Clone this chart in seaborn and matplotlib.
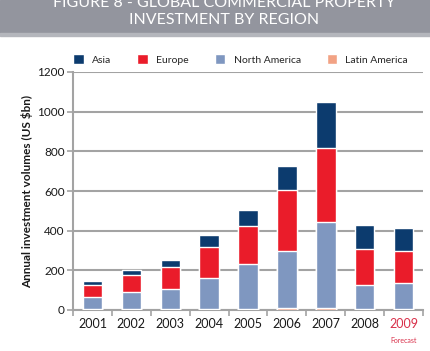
import numpy as np
import pandas as pd
import seaborn as sns
import matplotlib.pyplot as plt
from matplotlib.patches import Rectangle

years = ["2001", "2002", "2003", "2004", "2005", "2006", "2007", "2008", "2009"]
latin_america = [4, 4, 5, 6, 6, 8, 8, 5, 5]
north_america = [61, 85, 101, 156, 225, 288, 436, 120, 130]
europe = [63, 87, 113, 154, 193, 311, 373, 183, 161]
asia = [17, 26, 34, 60, 80, 119, 233, 119, 116]

regions = ["Asia", "Europe", "North America", "Latin America"]
colors = {"Asia": "#0c3b6e", "Europe": "#ea1c2a",
          "North America": "#7f97c0", "Latin America": "#f2a284"}

df = pd.DataFrame({"year": years, "Latin America": latin_america,
                   "North America": north_america, "Europe": europe, "Asia": asia})
# cumulative heights, bottom to top
df["c_la"] = df["Latin America"]
df["c_na"] = df["c_la"] + df["North America"]
df["c_eu"] = df["c_na"] + df["Europe"]
df["c_as"] = df["c_eu"] + df["Asia"]

sns.set_theme(style="white")
plt.rcParams["font.family"] = ["Lato", "DejaVu Sans"]

fig = plt.figure(figsize=(4.31, 3.51), dpi=100)

# grey header band (top title line is cut off in the original too)
fig.patches.append(Rectangle((0, 1 - 33 / 351), 1, 33 / 351, transform=fig.transFigure,
                             color="#93959e", zorder=0))
fig.patches.append(Rectangle((0, 1 - 36 / 351), 1, 3 / 351, transform=fig.transFigure,
                             color="#b4b6bc", zorder=0))
fig.text(0.52, 1 - 3 / 351, "FIGURE 8 - GLOBAL COMMERCIAL PROPERTY", color="white",
         ha="center", va="center", fontsize=11.5)
fig.text(0.52, 1 - 20 / 351, "INVESTMENT BY REGION", color="white",
         ha="center", va="center", fontsize=11.5)

ax = fig.add_axes([73 / 431, 1 - 310 / 351, 350 / 431, 238 / 351])

for col, reg in [("c_as", "Asia"), ("c_eu", "Europe"),
                 ("c_na", "North America"), ("c_la", "Latin America")]:
    sns.barplot(data=df, x="year", y=col, color=colors[reg], width=0.5,
                saturation=1, ax=ax, zorder=3, label=reg)

ax.set_xlim(-0.47, 8.49)
ax.set_ylim(0, 1200)
ax.set_yticks(np.arange(0, 1201, 200))
ax.set_xlabel("")
ax.set_ylabel("Annual investment volumes (US $bn)", fontsize=8.5,
              fontweight="bold", color="#1a1a1a", labelpad=3)
ax.yaxis.grid(True, color="#a3a3a3", lw=1.5, zorder=0)
ax.xaxis.grid(False)
for s in ["top", "right"]:
    ax.spines[s].set_visible(False)
for s in ["left", "bottom"]:
    ax.spines[s].set_color("#a3a3a3")
    ax.spines[s].set_linewidth(1.5)

ax.tick_params(axis="y", length=4, width=1.2, color="#a3a3a3", labelsize=8.5,
               labelcolor="#1a1a1a", pad=2, left=True)
ax.tick_params(axis="x", length=0, labelsize=9, labelcolor="#1a1a1a", pad=6)
ax.set_xticks(np.arange(-0.5, 9, 1), minor=True)
ax.tick_params(axis="x", which="minor", length=4, width=1.2, color="#a3a3a3", bottom=True)
ax.set_xticks(range(len(years)))
ax.set_xticklabels(years)
ax.get_xticklabels()[-1].set_color("#d9304a")
ax.text(8, -0.128, "Forecast", transform=ax.get_xaxis_transform(), ha="center",
        va="center", fontsize=5, color="#d9304a")

handles, labels = ax.get_legend_handles_labels()
ax.legend(handles, labels, loc="lower left", bbox_to_anchor=(-0.02, 1.0), ncol=4,
          frameon=False, fontsize=7.5, handlelength=1.0, handleheight=1.0,
          columnspacing=2.5, handletextpad=0.8, borderaxespad=0.3)

fig.savefig("out.png", dpi=100)
